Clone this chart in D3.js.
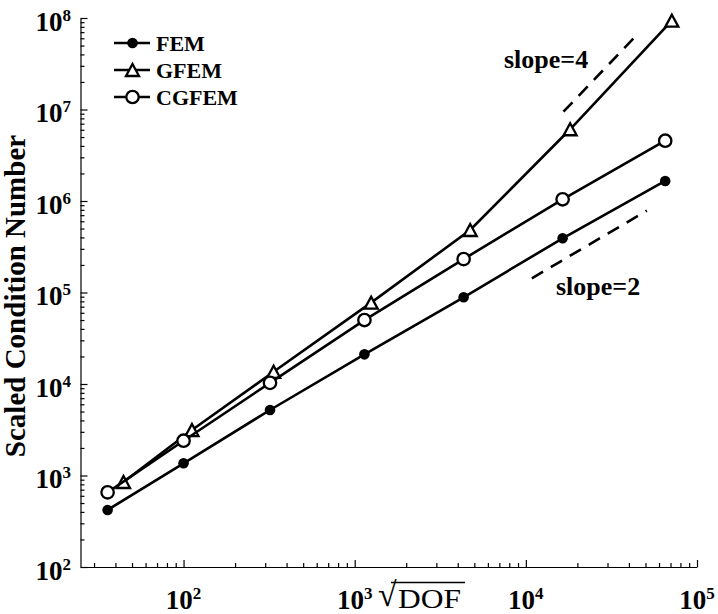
<!DOCTYPE html>
<html>
<head>
<meta charset="utf-8">
<script src="https://cdn.jsdelivr.net/npm/d3@7"></script>
<style>
  html, body { margin: 0; padding: 0; background: #fff; }
  svg { display: block; }
  text { font-family: "Liberation Serif", "Times New Roman", serif; }
</style>
</head>
<body>
<svg id="chart" width="718" height="614"></svg>
<script>
// ---- data ----
const seriesNames = ["FEM", "GFEM", "CGFEM"];
const xFEM   = [36, 100, 320, 1140, 4330, 16400, 65200];
const yFEM   = [420, 1360, 5200, 21100, 88700, 391000, 1655000];
const xGFEM  = [44.6, 112, 336, 1248, 4730, 18150, 71300];
const yGFEM  = [849, 3140, 13600, 77400, 482000, 6080000, 93400000];
const xCGFEM = [36, 100, 320, 1140, 4330, 16400, 65200];
const yCGFEM = [655, 2400, 10300, 50000, 232000, 1044000, 4560000];
const slope4X = [16590, 45500];
const slope4Y = [9.46e6, 6.81e7];
const slope2X = [10840, 50900];
const slope2Y = [143000, 784000];
const xMajorTicks = [1e2, 1e3, 1e4, 1e5];
const yMajorTicks = [1e2, 1e3, 1e4, 1e5, 1e6, 1e7, 1e8];
const slopeLabels = ["slope=4", "slope=2"];

// ---- layout ----
const svg = d3.select("#chart");
const x = d3.scaleLog().domain([25, 1e5]).range([80.5, 697]);
const y = d3.scaleLog().domain([1e2, 1e8]).range([567, 18]);

function minorTicks(scale) {
  const [a, b] = scale.domain();
  const out = [];
  for (let e = Math.floor(Math.log10(a)); e <= Math.ceil(Math.log10(b)); e++) {
    for (let m = 1; m <= 9; m++) {
      const v = m * Math.pow(10, e);
      if (v >= a * 0.9999 && v <= b * 1.0001) out.push(v);
    }
  }
  return out;
}
const isMajor = v => Math.abs(Math.log10(v) - Math.round(Math.log10(v))) < 1e-9;

// axes
const gx = svg.append("g").attr("transform", "translate(0,567)")
  .call(d3.axisBottom(x).tickValues(minorTicks(x)).tickFormat("").tickSizeOuter(0));
gx.selectAll(".tick line").attr("y2", d => isMajor(d) ? -7 : -4);
const gy = svg.append("g").attr("transform", "translate(80.5,0)")
  .call(d3.axisLeft(y).tickValues(minorTicks(y)).tickFormat("").tickSizeOuter(0));
gy.selectAll(".tick line").attr("x2", d => isMajor(d) ? 7 : 4);
svg.selectAll(".domain, .tick line").attr("stroke", "#000").attr("stroke-width", 1.2);

// tick labels
yMajorTicks.forEach(v => {
  const t = svg.append("text").attr("x", 71).attr("y", y(v) + 12.5)
    .attr("text-anchor", "end").attr("font-weight", "bold").attr("font-size", 27);
  t.append("tspan").text("10");
  t.append("tspan").attr("font-size", 17).attr("dy", -10).text(Math.round(Math.log10(v)));
});
xMajorTicks.forEach(v => {
  const t = svg.append("text").attr("x", x(v)).attr("y", 609)
    .attr("text-anchor", "middle").attr("font-weight", "bold").attr("font-size", 27);
  t.append("tspan").text("10");
  t.append("tspan").attr("font-size", 17).attr("dy", -10).text(Math.round(Math.log10(v)));
});

// axis labels
svg.append("text").attr("transform", "translate(25,296) rotate(-90)")
  .attr("text-anchor", "middle").attr("font-weight", "bold").attr("font-size", 29)
  .text("Scaled Condition Number");
const xl = svg.append("text").attr("x", 378).attr("y", 608).attr("font-size", 27);
xl.append("tspan").attr("font-size", 34).attr("dy", -2).text("√");
xl.append("tspan").attr("x", 398).attr("font-size", 28).attr("dy", 2)
  .attr("textLength", 63).attr("lengthAdjust", "spacingAndGlyphs").text("DOF");
svg.append("line").attr("x1", 391).attr("x2", 465)
  .attr("y1", 582.5).attr("y2", 582.5).attr("stroke", "#000").attr("stroke-width", 1.3);

// series
const line = d3.line().x(d => x(d[0])).y(d => y(d[1]));
const series = [
  { name: "FEM",   xs: xFEM,   ys: yFEM,   marker: "dot" },
  { name: "GFEM",  xs: xGFEM,  ys: yGFEM,  marker: "tri" },
  { name: "CGFEM", xs: xCGFEM, ys: yCGFEM, marker: "circ" }
];
function drawMarker(g, type, cx, cy) {
  if (type === "dot") {
    g.append("circle").attr("cx", cx).attr("cy", cy).attr("r", 5.3).attr("fill", "#000");
  } else if (type === "circ") {
    g.append("circle").attr("cx", cx).attr("cy", cy).attr("r", 6.2)
      .attr("fill", "#fff").attr("stroke", "#000").attr("stroke-width", 2.3);
  } else {
    const w = 6.5, h = 6;
    g.append("path").attr("d", `M${cx},${cy - h}L${cx + w},${cy + h}L${cx - w},${cy + h}Z`)
      .attr("fill", "#fff").attr("stroke", "#000").attr("stroke-width", 2.3)
      .attr("stroke-linejoin", "miter");
  }
}
series.forEach(s => {
  const pts = s.xs.map((v, i) => [v, s.ys[i]]);
  svg.append("path").datum(pts).attr("d", line)
    .attr("fill", "none").attr("stroke", "#000").attr("stroke-width", 2.6);
  const g = svg.append("g");
  pts.forEach(p => drawMarker(g, s.marker, x(p[0]), y(p[1])));
});

// slope reference lines
[[slope4X, slope4Y], [slope2X, slope2Y]].forEach(([xs, ys]) => {
  svg.append("path").datum(xs.map((v, i) => [v, ys[i]])).attr("d", line)
    .attr("fill", "none").attr("stroke", "#000").attr("stroke-width", 2.6)
    .attr("stroke-dasharray", "13,9");
});
svg.append("text").attr("x", 504).attr("y", 68).attr("font-weight", "bold")
  .attr("font-size", 26).text(slopeLabels[0]);
svg.append("text").attr("x", 556).attr("y", 295).attr("font-weight", "bold")
  .attr("font-size", 26).text(slopeLabels[1]);

// legend
const legendY = [43, 70, 97];
series.forEach((s, i) => {
  const g = svg.append("g");
  g.append("line").attr("x1", 114).attr("x2", 150).attr("y1", legendY[i]).attr("y2", legendY[i])
    .attr("stroke", "#000").attr("stroke-width", 2.6);
  drawMarker(g, s.marker, 132.5, legendY[i]);
  g.append("text").attr("x", 156).attr("y", legendY[i] + 8).attr("font-weight", "bold")
    .attr("font-size", 22).text(seriesNames[i]);
});
</script>
</body>
</html>
